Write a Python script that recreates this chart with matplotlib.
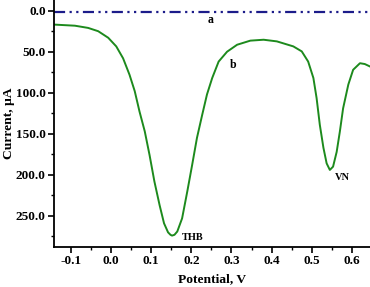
import matplotlib
matplotlib.use("Agg")
import matplotlib.pyplot as plt
from matplotlib.ticker import MultipleLocator, FormatStrFormatter

# Curve a (blank): flat line near zero
pot_a = [-0.142, 0.0, 0.2, 0.4, 0.645]
cur_a = [2.0, 2.0, 2.0, 2.0, 2.0]

# Curve b: THB + VN
pot_b = [-0.140, -0.090, -0.057, -0.032, -0.007, 0.013, 0.030, 0.046, 0.059, 0.071,
         0.084, 0.096, 0.108, 0.121, 0.132, 0.142, 0.148, 0.152, 0.158, 0.165, 0.177, 0.190,
         0.202, 0.214, 0.227, 0.239, 0.252, 0.268, 0.289, 0.314, 0.347, 0.380,
         0.413, 0.454, 0.475, 0.491, 0.504, 0.512, 0.520, 0.529, 0.537, 0.545,
         0.553, 0.562, 0.570, 0.578, 0.591, 0.603, 0.620, 0.632, 0.645]
cur_b = [17, 18.3, 21, 25, 33, 43.5, 58, 78, 98, 123,
         147, 176, 208, 237, 259, 270, 273, 274, 273, 269, 253, 220,
         188, 155, 127, 102, 82, 62, 50, 41.5, 36.5, 35.4,
         37.4, 43.5, 49.6, 62, 82, 106.5, 139, 167, 186, 194,
         190, 172, 147, 119, 90, 72, 64, 65, 68]

labels = {"a": (0.24, 11), "b": (0.295, 66), "THB": (0.176, 276), "VN": (0.557, 203)}

plt.rcParams['font.family'] = ['Liberation Serif', 'DejaVu Serif']
plt.rcParams['font.weight'] = 'bold'

fig = plt.figure(figsize=(3.70, 2.87), dpi=100)
ax = fig.add_axes([0.146, 0.139, 0.854, 0.861])

ax.plot(pot_a, cur_a, color='#1c1c8a', lw=1.6, linestyle=(0, (5, 2, 1, 2, 1, 2)))
ax.plot(pot_b, cur_b, color='#1d8a1d', lw=1.4, solid_joinstyle='round')

for t, (x, y) in labels.items():
    ax.text(x, y, t, fontsize=7.5 if len(t) > 1 else 8.5, fontweight='bold', ha='left', va='center')

ax.set_xlim(-0.142, 0.645)
ax.set_ylim(288, -13)

ax.xaxis.set_major_locator(MultipleLocator(0.1))
ax.xaxis.set_minor_locator(MultipleLocator(0.05))
ax.xaxis.set_major_formatter(FormatStrFormatter('%.1f'))
ax.yaxis.set_major_locator(MultipleLocator(50))
ax.yaxis.set_minor_locator(MultipleLocator(25))
ax.yaxis.set_major_formatter(FormatStrFormatter('%.1f'))

for s in ['top', 'right']:
    ax.spines[s].set_visible(False)
for s in ['left', 'bottom']:
    ax.spines[s].set_linewidth(1.3)

ax.tick_params(which='major', direction='out', length=4, width=1.2, labelsize=9.5, pad=2)
ax.tick_params(which='minor', direction='out', length=2.5, width=1.0)
for lab in ax.get_xticklabels() + ax.get_yticklabels():
    lab.set_fontweight('bold')

ax.set_xlabel('Potential, V', fontsize=9.7, fontweight='bold', labelpad=4)
ax.set_ylabel('Current, μA', fontsize=9.7, fontweight='bold', labelpad=0.5)

fig.savefig('out.png', dpi=100)
